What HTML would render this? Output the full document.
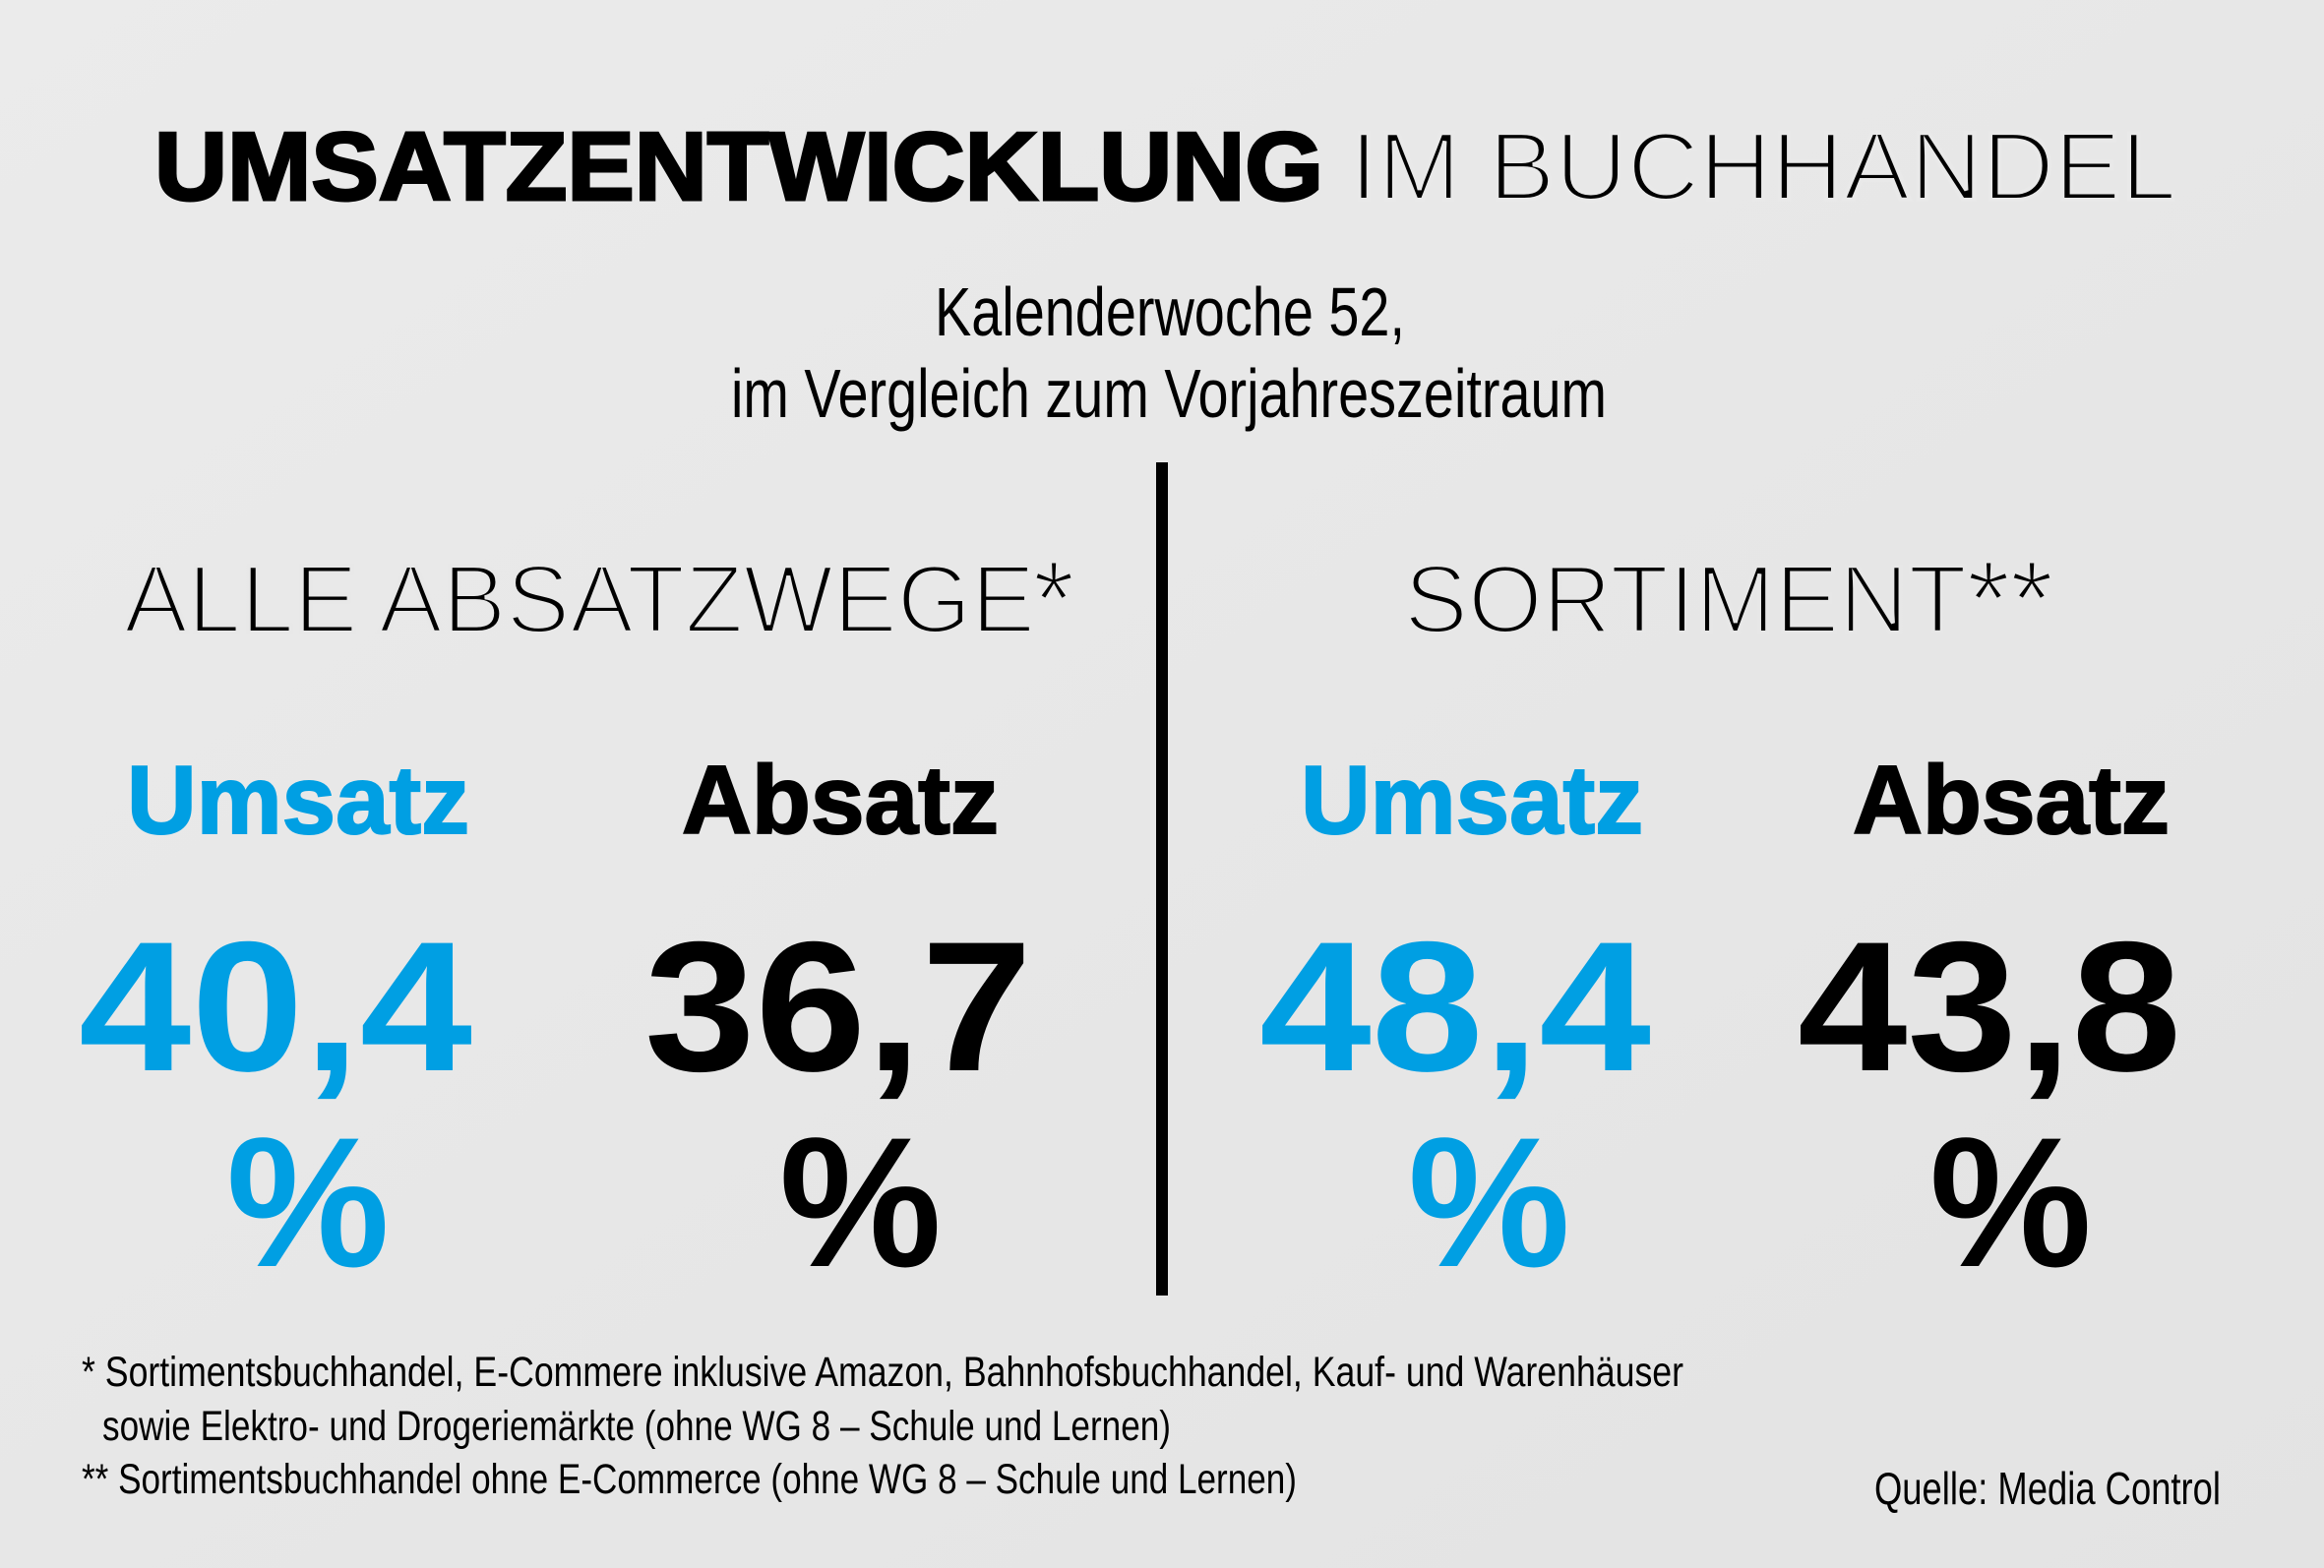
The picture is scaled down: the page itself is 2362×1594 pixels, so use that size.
<!DOCTYPE html>
<html>
<head>
<meta charset="utf-8">
<style>
  html, body { margin: 0; padding: 0; width: 2362px; height: 1594px; overflow: hidden; background: #e7e7e7; }
  svg { display: block; }
  .b { font-family: "Liberation Sans", sans-serif; font-weight: 700; }
  .r { font-family: "Liberation Sans", sans-serif; font-weight: 400; }
</style>
</head>
<body>
<svg width="2362" height="1594" viewBox="0 0 2362 1594" xmlns="http://www.w3.org/2000/svg">
  <defs>
    <linearGradient id="bg" x1="0" y1="0" x2="1" y2="1">
      <stop offset="0" stop-color="#ebebeb"/>
      <stop offset="1" stop-color="#e3e3e3"/>
    </linearGradient>
  </defs>
  <rect x="0" y="0" width="2362" height="1594" fill="url(#bg)"/>

  <!-- Title -->
  <text class="b" x="157" y="203" font-size="98" fill="#000" stroke="#000" stroke-width="3" textLength="1188" lengthAdjust="spacingAndGlyphs">UMSATZENTWICKLUNG</text>
  <text class="r" x="1372" y="203" font-size="98" fill="#000" stroke="#e9e9e9" stroke-width="4" textLength="840" lengthAdjust="spacingAndGlyphs">IM BUCHHANDEL</text>

  <!-- Subtitle -->
  <text class="r" x="950" y="341" font-size="70" fill="#000" textLength="478" lengthAdjust="spacingAndGlyphs">Kalenderwoche 52,</text>
  <text class="r" x="743" y="424" font-size="70" fill="#000" textLength="890" lengthAdjust="spacingAndGlyphs">im Vergleich zum Vorjahreszeitraum</text>

  <!-- Divider -->
  <rect x="1175" y="470" width="12" height="847" fill="#000"/>

  <!-- Section headings -->
  <text class="r" x="126" y="643" font-size="98" fill="#000" stroke="#e8e8e8" stroke-width="4" textLength="926" lengthAdjust="spacingAndGlyphs">ALLE ABSATZWEGE</text>
  <text class="r" x="1050" y="647" font-size="110" fill="#000" stroke="#e8e8e8" stroke-width="3" textLength="42" lengthAdjust="spacingAndGlyphs">*</text>
  <text class="r" x="1427" y="643" font-size="98" fill="#000" stroke="#e7e7e7" stroke-width="4" textLength="572" lengthAdjust="spacingAndGlyphs">SORTIMENT</text>
  <text class="r" x="1999" y="647" font-size="110" fill="#000" stroke="#e7e7e7" stroke-width="3" textLength="88" lengthAdjust="spacingAndGlyphs">**</text>

  <!-- Column labels -->
  <text class="b" x="129" y="847" font-size="98" fill="#009fe3" stroke="#009fe3" stroke-width="2" textLength="348" lengthAdjust="spacingAndGlyphs">Umsatz</text>
  <text class="b" x="693" y="847" font-size="98" fill="#000" stroke="#000" stroke-width="2" textLength="322" lengthAdjust="spacingAndGlyphs">Absatz</text>
  <text class="b" x="1322" y="847" font-size="98" fill="#009fe3" stroke="#009fe3" stroke-width="2" textLength="348" lengthAdjust="spacingAndGlyphs">Umsatz</text>
  <text class="b" x="1883" y="847" font-size="98" fill="#000" stroke="#000" stroke-width="2" textLength="322" lengthAdjust="spacingAndGlyphs">Absatz</text>

  <!-- Numbers -->
  <text class="b" x="80" y="1088" font-size="188" fill="#009fe3" textLength="400" lengthAdjust="spacingAndGlyphs">40,4</text>
  <text class="b" x="655" y="1088" font-size="188" fill="#000" textLength="394" lengthAdjust="spacingAndGlyphs">36,7</text>
  <text class="b" x="1280" y="1088" font-size="188" fill="#009fe3" textLength="398" lengthAdjust="spacingAndGlyphs">48,4</text>
  <text class="b" x="1827" y="1088" font-size="188" fill="#000" textLength="390" lengthAdjust="spacingAndGlyphs">43,8</text>

  <!-- Percent signs -->
  <text class="b" x="230" y="1287" font-size="188" fill="#009fe3" textLength="166" lengthAdjust="spacingAndGlyphs">%</text>
  <text class="b" x="792" y="1287" font-size="188" fill="#000" textLength="165" lengthAdjust="spacingAndGlyphs">%</text>
  <text class="b" x="1431" y="1287" font-size="188" fill="#009fe3" textLength="165" lengthAdjust="spacingAndGlyphs">%</text>
  <text class="b" x="1961" y="1287" font-size="188" fill="#000" textLength="165" lengthAdjust="spacingAndGlyphs">%</text>

  <!-- Footnotes -->
  <text class="r" x="83" y="1409" font-size="43" fill="#000" textLength="1628" lengthAdjust="spacingAndGlyphs">* Sortimentsbuchhandel, E-Commere inklusive Amazon, Bahnhofsbuchhandel, Kauf- und Warenhäuser</text>
  <text class="r" x="104" y="1464" font-size="43" fill="#000" textLength="1086" lengthAdjust="spacingAndGlyphs">sowie Elektro- und Drogeriemärkte (ohne WG 8 – Schule und Lernen)</text>
  <text class="r" x="83" y="1518" font-size="43" fill="#000" textLength="1235" lengthAdjust="spacingAndGlyphs">** Sortimentsbuchhandel ohne E-Commerce (ohne WG 8 – Schule und Lernen)</text>
  <text class="r" x="1905" y="1529" font-size="46" fill="#000" textLength="352" lengthAdjust="spacingAndGlyphs">Quelle: Media Control</text>
</svg>
</body>
</html>
